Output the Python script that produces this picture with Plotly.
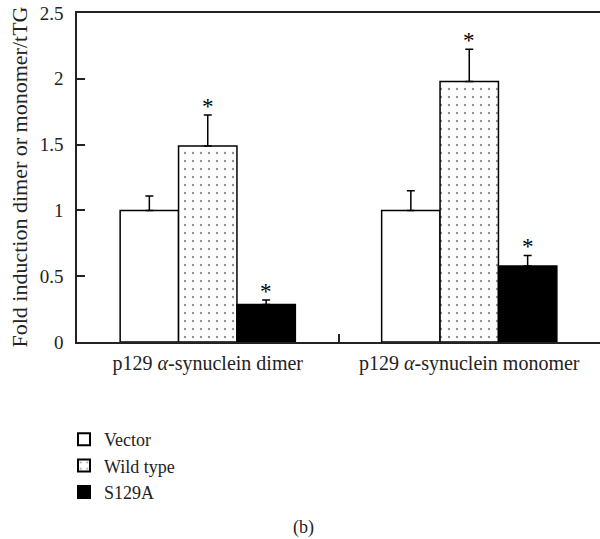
import plotly.graph_objects as go

categories = ["p129 <i>α</i>-synuclein dimer", "p129 <i>α</i>-synuclein monomer"]
series_names = ["Vector", "Wild type", "S129A"]
values = {
    "Vector": [1.0, 1.0],
    "Wild type": [1.49, 1.98],
    "S129A": [0.285, 0.578],
}
errors = {
    "Vector": [0.11, 0.15],
    "Wild type": [0.235, 0.245],
    "S129A": [0.035, 0.08],
}
significant = {
    "Vector": [False, False],
    "Wild type": [True, True],
    "S129A": [True, True],
}
y_ticks = [0, 0.5, 1, 1.5, 2, 2.5]
y_tick_labels = ["0", "0.5", "1", "1.5", "2", "2.5"]
y_title = "Fold induction dimer or monomer/tTG"
panel_label = "(b)"

FONT = "Liberation Serif"
TXT = "#222"

styles = {
    "Vector": dict(color="white", pattern=dict(shape="")),
    "Wild type": dict(color="white", pattern=dict(shape=".", fgcolor="#222", bgcolor="white", size=8, solidity=0.07)),
    "S129A": dict(color="black", pattern=dict(shape="")),
}

fig = go.Figure()
for name in series_names:
    st = styles[name]
    fig.add_trace(go.Bar(
        name=name,
        x=categories,
        y=values[name],
        marker=dict(color=st["color"], line=dict(color="black", width=1.5), pattern=st["pattern"]),
        error_y=dict(type="data", array=errors[name], arrayminus=[0] * len(errors[name]), symmetric=False,
                     color="black", thickness=1.5, width=4),
    ))

# asterisks above error bars
offsets = {"Vector": -0.2233, "Wild type": 0.0, "S129A": 0.2233}
for name in series_names:
    for i, cat in enumerate(categories):
        if significant[name][i]:
            fig.add_annotation(
                x=i + offsets[name], xref="x",
                y=values[name][i] + errors[name][i], yref="y",
                text="*", showarrow=False, yanchor="bottom", yshift=-6,
                font=dict(family=FONT, size=23, color="black"),
            )

# panel label
fig.add_annotation(x=(303 - 77) / 523, xref="paper", y=(342 - 527) / 329, yref="paper",
                   yanchor="middle", text=panel_label, showarrow=False,
                   font=dict(family=FONT, size=18, color=TXT))
# y-axis title
fig.add_annotation(x=(19 - 77) / 523, xref="paper", xanchor="center", y=0.5, yref="paper",
                   yanchor="middle", text=y_title, textangle=-90, showarrow=False,
                   font=dict(family=FONT, size=22, color=TXT))

fig.update_layout(
    width=600, height=539,
    margin=dict(l=77, r=0, t=13, b=197, autoexpand=False),
    paper_bgcolor="white", plot_bgcolor="white",
    barmode="group", bargap=0.33, bargroupgap=0,
    font=dict(family=FONT, size=18, color=TXT),
    showlegend=True,
    legend=dict(
        x=64 / 600, xref="container", xanchor="left",
        y=1 - 421 / 539, yref="container", yanchor="top",
        font=dict(family=FONT, size=18, color=TXT),
        tracegroupgap=0, itemsizing="constant",
    ),
    xaxis=dict(
        type="category", range=[-0.5, 1.5],
        showline=True, linecolor="#222", linewidth=1.5, mirror=True,
        ticks="inside", tickson="boundaries", ticklen=8, tickcolor="#222", tickwidth=1.5,
        ticklabelstandoff=2,
        tickfont=dict(family=FONT, size=20, color=TXT),
        showgrid=False, zeroline=False,
    ),
    yaxis=dict(
        range=[0, 2.5], tickvals=y_ticks, ticktext=y_tick_labels,
        showline=True, linecolor="#222", linewidth=1.5,
        ticks="inside", ticklen=8, tickcolor="#222", tickwidth=1.5,
        ticklabelstandoff=8,
        tickfont=dict(family=FONT, size=19, color=TXT),
        showgrid=False, zeroline=False,
    ),
)

fig.write_html("out.html", config={"displayModeBar": False},
               post_script="document.body.style.margin='0';")
